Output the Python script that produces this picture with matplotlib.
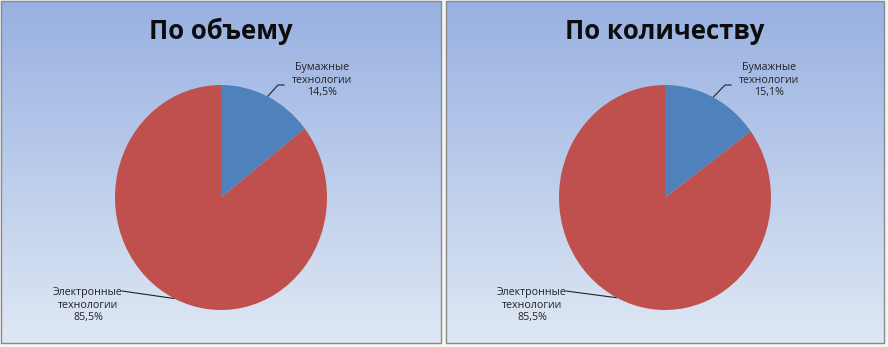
import numpy as np
import matplotlib
matplotlib.use("Agg")
import matplotlib.pyplot as plt
from matplotlib.patches import Rectangle

plt.rcParams['font.family'] = ['Open Sans', 'DejaVu Sans']

titles = ["По объему", "По количеству"]
categories = ["Бумажные\nтехнологии", "Электронные\nтехнологии"]
values_volume = [14.5, 85.5]
values_count = [15.1, 85.5]
label_texts_volume = ["14,5%", "85,5%"]
label_texts_count = ["15,1%", "85,5%"]
colors = ["#4F81BD", "#C0504D"]

W, H = 888, 347
fig = plt.figure(figsize=(W / 100, H / 100), dpi=100)
fig.patch.set_facecolor("#f4f4f4")

# background axes in pixel coordinates
bg = fig.add_axes([0, 0, 1, 1])
bg.set_xlim(0, W)
bg.set_ylim(H, 0)
bg.axis("off")

top = np.array([0x98, 0xB1, 0xE2]) / 255
bot = np.array([0xDF, 0xE8, 0xF4]) / 255
grad = np.linspace(0, 1, 256)[:, None, None]
img = top * (1 - grad) + bot * grad
img = np.repeat(img, 2, axis=1)

panels = [(1, 1, 441, 343), (446, 1, 884, 343)]
for (x0, y0, x1, y1) in panels:
    bg.imshow(img, extent=[x0, x1, y1, y0], aspect="auto", zorder=0)
    bg.add_patch(Rectangle((x0, y0), x1 - x0, y1 - y0, fill=False,
                           edgecolor="#8a8a8a", linewidth=1.0, zorder=1))

datasets = [
    (values_volume, label_texts_volume, 221, (322, 80), (88, 305)),
    (values_count, label_texts_count, 665, (769, 80), (532, 305)),
]
cy, rx, ry = 197.5, 106, 112.5

for i, (vals, ltxt, cx, blue_pos, red_pos) in enumerate(datasets):
    ax = fig.add_axes([(cx - rx) / W, (H - cy - ry) / H, 2 * rx / W, 2 * ry / H])
    wedges, _ = ax.pie(vals, colors=colors, startangle=90, counterclock=False,
                       radius=1.0, wedgeprops=dict(linewidth=0))
    ax.set_xlim(-1, 1)
    ax.set_ylim(-1, 1)
    ax.set_aspect("auto")
    ax.axis("off")

    bg.text(cx, 31, titles[i], ha="center", va="center", fontsize=18.5,
            fontweight="bold", color="#0d0d0d", zorder=3)

    for j, w in enumerate(wedges):
        mid = np.deg2rad((w.theta1 + w.theta2) / 2)
        px = cx + rx * np.cos(mid)
        py = cy - ry * np.sin(mid)
        tx, ty = blue_pos if j == 0 else red_pos
        bg.text(tx, ty, categories[j] + "\n" + ltxt[j], ha="center", va="center",
                fontsize=7.7, color="#222222", linespacing=1.2, zorder=3)
        if j == 0:
            bg.plot([px, tx - 44, tx - 38], [py, ty + 5, ty + 5],
                    color="#222222", lw=0.8, zorder=3)
        else:
            bg.plot([px, tx + 34], [py, ty - 14], color="#222222", lw=0.8, zorder=3)

fig.savefig("out.png", dpi=100)
